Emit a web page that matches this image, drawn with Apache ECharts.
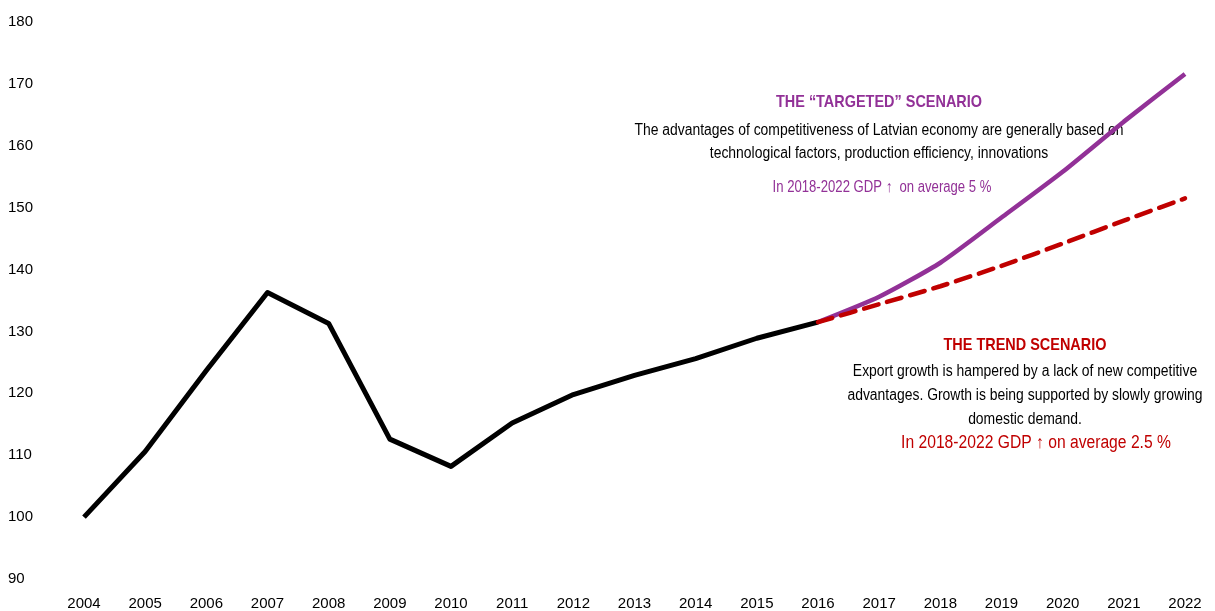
<!DOCTYPE html>
<html>
<head>
<meta charset="utf-8">
<script src="https://cdn.jsdelivr.net/npm/echarts@6/dist/echarts.min.js"></script>
<style>
  html, body { margin: 0; padding: 0; background: #fff; }
  #chart { width: 1215px; height: 611px; }
</style>
</head>
<body>
<div id="chart"></div>
<script>
// years on the x axis
const years = ['2004','2005','2006','2007','2008','2009','2010','2011','2012','2013',
  '2014','2015','2016','2017','2018','2019','2020','2021','2022'];
// actual GDP index (2004 = 100)
const actual = [100, 110.6, 123.7, 136.3, 131.3, 112.6, 108.2, 115.2, 119.8, 122.9,
  125.6, 128.9, 131.5, null, null, null, null, null, null];
// "targeted" scenario
const targeted = [null, null, null, null, null, null, null, null, null, null,
  null, null, 131.5, 135.6, 141.1, 148.4, 155.8, 163.9, 171.6];
// trend scenario
const trend = [null, null, null, null, null, null, null, null, null, null,
  null, null, 131.5, 134.4, 137.3, 140.6, 144.2, 147.9, 151.5];

const font = "'Liberation Sans Narrow', 'Arial Narrow', 'Liberation Sans', sans-serif";
const purple = '#923197';
const red = '#c00000';

var chart = echarts.init(document.getElementById('chart'));

// annotation text, squeezed horizontally to look like a narrow font
function txt(x, y, text, size, color, bold, sx) {
  return {
    type: 'text', x: x, y: y, scaleX: sx || 0.87,
    style: {
      text: text, fill: color, font: (bold ? 'bold ' : '') + size + 'px ' + font,
      align: 'center', verticalAlign: 'middle'
    }
  };
}

chart.setOption({
  animation: false,
  grid: { left: 84, right: 30, top: 22, bottom: 31 },
  xAxis: {
    type: 'category',
    data: years,
    boundaryGap: false,
    axisLine: { show: false },
    axisTick: { show: false },
    axisLabel: { color: '#000', fontSize: 15, fontFamily: font, margin: 17 }
  },
  yAxis: {
    type: 'value',
    min: 90, max: 180, interval: 10,
    splitLine: { show: false },
    axisLine: { show: false },
    axisTick: { show: false },
    axisLabel: { color: '#000', fontSize: 15, fontFamily: font, align: 'left', margin: 76 }
  },
  series: [
    {
      name: 'actual', type: 'line', data: actual,
      symbol: 'none',
      lineStyle: { color: '#000', width: 5, join: 'round' }
    },
    {
      name: 'targeted', type: 'line', data: targeted,
      symbol: 'none', smooth: 0.2,
      lineStyle: { color: purple, width: 4.5 }
    },
    {
      name: 'trend', type: 'line', data: trend,
      symbol: 'none', smooth: 0.2,
      lineStyle: { color: red, width: 4.5, type: [15, 9], cap: 'round' }
    }
  ],
  graphic: [
    txt(879, 102, 'THE \u201cTARGETED\u201d SCENARIO', 17, purple, true, 0.85),
    txt(879, 131, 'The advantages of competitiveness of Latvian economy are generally based on', 16, '#000'),
    txt(879, 154, 'technological factors, production efficiency, innovations', 16, '#000'),
    txt(882, 188, 'In 2018-2022 GDP \u2191  on average 5 %', 16, purple, false, 0.82),
    txt(1025, 345, 'THE TREND SCENARIO', 17, red, true, 0.85),
    txt(1025, 372, 'Export growth is hampered by a lack of new competitive', 16, '#000'),
    txt(1025, 396, 'advantages. Growth is being supported by slowly growing', 16, '#000'),
    txt(1025, 420, 'domestic demand.', 16, '#000'),
    txt(1036, 443, 'In 2018-2022 GDP \u2191 on average 2.5 %', 18, red)
  ]
});
</script>
</body>
</html>
